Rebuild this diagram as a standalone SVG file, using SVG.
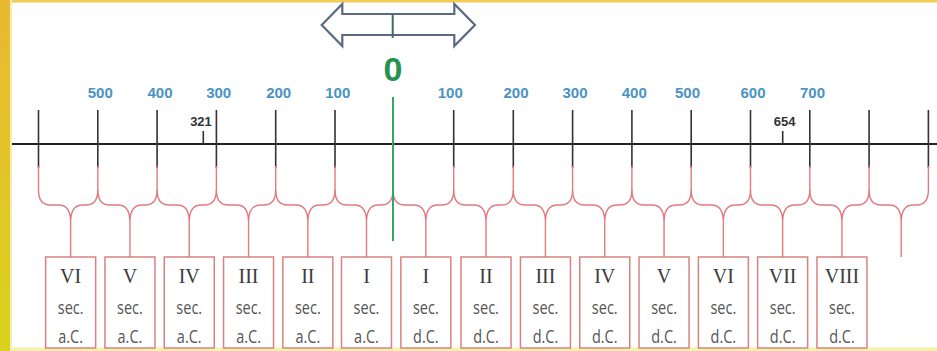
<svg xmlns="http://www.w3.org/2000/svg" width="937" height="351" viewBox="0 0 937 351">
<defs>
<linearGradient id="ybar" x1="0" y1="0" x2="0" y2="1">
<stop offset="0" stop-color="#eab832"/>
<stop offset="1" stop-color="#d8d31c"/>
</linearGradient>
</defs>
<style>
.tick{stroke:#333;stroke-width:1.6;fill:none}
.brace{stroke:#e07b82;stroke-width:1.4;fill:none}
.box{fill:#fff;stroke:#d98283;stroke-width:1.5}
.yr{font-family:"Liberation Sans",Arial,sans-serif;font-weight:bold;font-size:15px;fill:#4a93c4;text-anchor:middle}
.mk{font-family:"Liberation Sans",Arial,sans-serif;font-weight:bold;font-size:13px;fill:#333;text-anchor:middle}
.rn{font-family:"Liberation Serif","Times New Roman",serif;font-size:20px;fill:#3c3c3c;text-anchor:middle}
.sc{font-family:"Open Sans","Liberation Sans",Arial,sans-serif;font-size:14.5px;fill:#555;text-anchor:middle;transform-box:fill-box;transform-origin:center;transform:scaleY(1.25)}
</style>
<rect width="937" height="351" fill="#fff"/>
<rect x="0" y="0" width="937" height="2.5" fill="#f2cc55"/>
<rect x="0" y="347.5" width="937" height="3.5" fill="#f7f2a8"/>
<rect x="0" y="0" width="10" height="351" fill="url(#ybar)"/>
<rect x="10" y="0" width="2" height="351" fill="#f6eeb0"/>

<g id="arrow">
<polygon points="321.7,25 342.3,4 342.3,14 454.3,14 454.3,4 475,25 454.3,46 454.3,35 342.3,35 342.3,46" fill="#fff" stroke="#5a6984" stroke-width="2.2" stroke-linejoin="miter"/>
<line x1="392.7" y1="14" x2="392.7" y2="38" stroke="#3f6a6a" stroke-width="2"/>
</g>

<g id="axis">
<line x1="12" y1="144" x2="937" y2="144" stroke="#222" stroke-width="1.8"/>
<g class="tick">
<path d="M38.5 110V168M97.8 110V168M157.1 110V168M216.4 110V168M275.7 110V168M335 110V168M453.7 110V168M513.3 110V168M572.6 110V168M631.9 110V168M691.2 110V168M750.5 110V168M809.8 110V168M869.1 110V168M928.4 110V168"/>
<path d="M203.3 131V144M782.7 131V144"/>
</g>
</g>

<g id="labels">
<text class="yr" x="100.3" y="98">500</text>
<text class="yr" x="160" y="98">400</text>
<text class="yr" x="218.7" y="98">300</text>
<text class="yr" x="278.7" y="98">200</text>
<text class="yr" x="337.8" y="98">100</text>
<text class="yr" x="450.3" y="98">100</text>
<text class="yr" x="516" y="98">200</text>
<text class="yr" x="575" y="98">300</text>
<text class="yr" x="634.3" y="98">400</text>
<text class="yr" x="687.5" y="98">500</text>
<text class="yr" x="753" y="98">600</text>
<text class="yr" x="812.5" y="98">700</text>
<text class="mk" x="201" y="126">321</text>
<text class="mk" x="784.7" y="126">654</text>
<text x="393" y="81" font-family="'Liberation Sans',Arial,sans-serif" font-weight="bold" font-size="34" fill="#27924f" text-anchor="middle">0</text>
</g>

<g id="connectors" class="brace">
<path d="M38.5 166V190M97.8 166V190M157.1 166V190M216.4 166V190M275.7 166V190M335 166V190M393 166V190M453.7 166V190M513.3 166V190M572.6 166V190M631.9 166V190M691.2 166V190M750.5 166V190M809.8 166V190M869.1 166V190M928.4 166V190"/>
<path d="M38.5 190Q38.5 205 50.5 205H58.65Q70.65 205 70.65 222V257M70.65 222Q70.65 205 82.65 205H85.8Q97.8 205 97.8 190"/>
<path d="M97.8 190Q97.8 205 109.8 205H117.95Q129.95 205 129.95 222V257M129.95 222Q129.95 205 141.95 205H145.1Q157.1 205 157.1 190"/>
<path d="M157.1 190Q157.1 205 169.1 205H177.25Q189.25 205 189.25 222V257M189.25 222Q189.25 205 201.25 205H204.4Q216.4 205 216.4 190"/>
<path d="M216.4 190Q216.4 205 228.4 205H236.55Q248.55 205 248.55 222V257M248.55 222Q248.55 205 260.55 205H263.7Q275.7 205 275.7 190"/>
<path d="M275.7 190Q275.7 205 287.7 205H295.85Q307.85 205 307.85 222V257M307.85 222Q307.85 205 319.85 205H323Q335 205 335 190"/>
<path d="M335 190Q335 205 347 205H354.5Q366.5 205 366.5 222V257M366.5 222Q366.5 205 378.5 205H381Q393 205 393 190"/>
<path d="M393 190Q393 205 405 205H413.85Q425.85 205 425.85 222V257M425.85 222Q425.85 205 437.85 205H441.7Q453.7 205 453.7 190"/>
<path d="M453.7 190Q453.7 205 465.7 205H474Q486 205 486 222V257M486 222Q486 205 498 205H501.3Q513.3 205 513.3 190"/>
<path d="M513.3 190Q513.3 205 525.3 205H533.45Q545.45 205 545.45 222V257M545.45 222Q545.45 205 557.45 205H560.6Q572.6 205 572.6 190"/>
<path d="M572.6 190Q572.6 205 584.6 205H592.75Q604.75 205 604.75 222V257M604.75 222Q604.75 205 616.75 205H619.9Q631.9 205 631.9 190"/>
<path d="M631.9 190Q631.9 205 643.9 205H652.05Q664.05 205 664.05 222V257M664.05 222Q664.05 205 676.05 205H679.2Q691.2 205 691.2 190"/>
<path d="M691.2 190Q691.2 205 703.2 205H711.35Q723.35 205 723.35 222V257M723.35 222Q723.35 205 735.35 205H738.5Q750.5 205 750.5 190"/>
<path d="M750.5 190Q750.5 205 762.5 205H770.65Q782.65 205 782.65 222V257M782.65 222Q782.65 205 794.65 205H797.8Q809.8 205 809.8 190"/>
<path d="M809.8 190Q809.8 205 821.8 205H829.95Q841.95 205 841.95 222V257M841.95 222Q841.95 205 853.95 205H857.1Q869.1 205 869.1 190"/>
<path d="M869.1 190Q869.1 205 881.1 205H889.25Q901.25 205 901.25 222V257M901.25 222Q901.25 205 913.25 205H916.4Q928.4 205 928.4 190"/>
</g>

<line id="zero-line" x1="393" y1="97" x2="393" y2="241" stroke="#3aa366" stroke-width="2"/>

<g id="box-VI-ac"><rect class="box" x="45.65" y="257" width="50" height="91"/><text class="rn" x="70.65" y="283">VI</text><text class="sc" x="70.65" y="313">sec.</text><text class="sc" x="70.65" y="342">a.C.</text></g>
<g id="box-V-ac"><rect class="box" x="104.95" y="257" width="50" height="91"/><text class="rn" x="129.95" y="283">V</text><text class="sc" x="129.95" y="313">sec.</text><text class="sc" x="129.95" y="342">a.C.</text></g>
<g id="box-IV-ac"><rect class="box" x="164.25" y="257" width="50" height="91"/><text class="rn" x="189.25" y="283">IV</text><text class="sc" x="189.25" y="313">sec.</text><text class="sc" x="189.25" y="342">a.C.</text></g>
<g id="box-III-ac"><rect class="box" x="223.55" y="257" width="50" height="91"/><text class="rn" x="248.55" y="283">III</text><text class="sc" x="248.55" y="313">sec.</text><text class="sc" x="248.55" y="342">a.C.</text></g>
<g id="box-II-ac"><rect class="box" x="282.85" y="257" width="50" height="91"/><text class="rn" x="307.85" y="283">II</text><text class="sc" x="307.85" y="313">sec.</text><text class="sc" x="307.85" y="342">a.C.</text></g>
<g id="box-I-ac"><rect class="box" x="341.5" y="257" width="50" height="91"/><text class="rn" x="366.5" y="283">I</text><text class="sc" x="366.5" y="313">sec.</text><text class="sc" x="366.5" y="342">a.C.</text></g>
<g id="box-I-dc"><rect class="box" x="400.85" y="257" width="50" height="91"/><text class="rn" x="425.85" y="283">I</text><text class="sc" x="425.85" y="313">sec.</text><text class="sc" x="425.85" y="342">d.C.</text></g>
<g id="box-II-dc"><rect class="box" x="461" y="257" width="50" height="91"/><text class="rn" x="486" y="283">II</text><text class="sc" x="486" y="313">sec.</text><text class="sc" x="486" y="342">d.C.</text></g>
<g id="box-III-dc"><rect class="box" x="520.45" y="257" width="50" height="91"/><text class="rn" x="545.45" y="283">III</text><text class="sc" x="545.45" y="313">sec.</text><text class="sc" x="545.45" y="342">d.C.</text></g>
<g id="box-IV-dc"><rect class="box" x="579.75" y="257" width="50" height="91"/><text class="rn" x="604.75" y="283">IV</text><text class="sc" x="604.75" y="313">sec.</text><text class="sc" x="604.75" y="342">d.C.</text></g>
<g id="box-V-dc"><rect class="box" x="639.05" y="257" width="50" height="91"/><text class="rn" x="664.05" y="283">V</text><text class="sc" x="664.05" y="313">sec.</text><text class="sc" x="664.05" y="342">d.C.</text></g>
<g id="box-VI-dc"><rect class="box" x="698.35" y="257" width="50" height="91"/><text class="rn" x="723.35" y="283">VI</text><text class="sc" x="723.35" y="313">sec.</text><text class="sc" x="723.35" y="342">d.C.</text></g>
<g id="box-VII-dc"><rect class="box" x="757.65" y="257" width="50" height="91"/><text class="rn" x="782.65" y="283">VII</text><text class="sc" x="782.65" y="313">sec.</text><text class="sc" x="782.65" y="342">d.C.</text></g>
<g id="box-VIII-dc"><rect class="box" x="816.95" y="257" width="50" height="91"/><text class="rn" x="841.95" y="283">VIII</text><text class="sc" x="841.95" y="313">sec.</text><text class="sc" x="841.95" y="342">d.C.</text></g>
</svg>
